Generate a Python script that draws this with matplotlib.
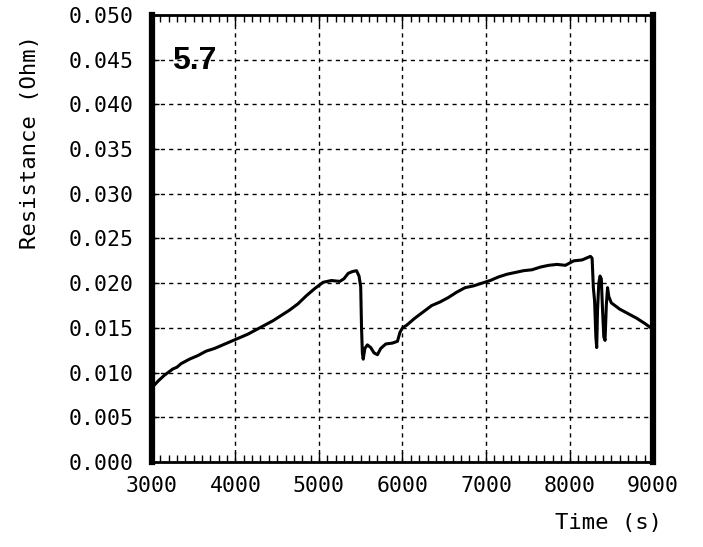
import matplotlib
matplotlib.use("Agg")
import matplotlib.pyplot as plt
from matplotlib.ticker import MultipleLocator, FormatStrFormatter

time_s = [3000, 3080, 3150, 3250, 3300, 3350, 3450, 3550, 3650, 3750, 3850, 3950,
          4050, 4150, 4250, 4350, 4450, 4550, 4650, 4750, 4850, 4950, 5050, 5150,
          5250, 5300, 5350, 5400, 5450, 5480, 5500, 5510, 5520, 5530, 5550, 5580,
          5620, 5660, 5700, 5740, 5800, 5880, 5940, 5970, 6000, 6050, 6150, 6250,
          6350, 6450, 6550, 6650, 6750, 6850, 6950, 7050, 7150, 7250, 7350, 7450,
          7550, 7650, 7750, 7850, 7950, 8050, 8150, 8250, 8270, 8285, 8300, 8315,
          8325, 8335, 8350, 8365, 8380, 8395, 8410, 8425, 8440, 8455, 8470, 8500,
          8600, 8700, 8800, 8900, 8960, 9000]
resistance = [0.0083, 0.0091, 0.0097, 0.0104, 0.0106, 0.0110, 0.0115, 0.0119, 0.0124,
              0.0127, 0.0131, 0.0135, 0.0139, 0.0143, 0.0148, 0.0153, 0.0158, 0.0164,
              0.0170, 0.0177, 0.0186, 0.0194, 0.0201, 0.0203, 0.0202, 0.0205, 0.0211,
              0.0213, 0.0214, 0.0208, 0.0196, 0.0150, 0.0122, 0.0115, 0.0127, 0.0131,
              0.0128, 0.0122, 0.0120, 0.0127, 0.0132, 0.0133, 0.0135, 0.0145, 0.0150,
              0.0153, 0.0161, 0.0168, 0.0175, 0.0179, 0.0184, 0.0190, 0.0195, 0.0197,
              0.0200, 0.0203, 0.0207, 0.0210, 0.0212, 0.0214, 0.0215, 0.0218, 0.0220,
              0.0221, 0.0220, 0.0225, 0.0226, 0.0230, 0.0228, 0.0195, 0.0180, 0.0140,
              0.0128, 0.0170, 0.0200, 0.0208, 0.0205, 0.0170, 0.0140, 0.0136, 0.0175,
              0.0195, 0.0185, 0.0178, 0.0171, 0.0166, 0.0161, 0.0155, 0.0151, 0.0148]

x_ticks = [3000, 4000, 5000, 6000, 7000, 8000, 9000]
y_ticks = [0.000, 0.005, 0.010, 0.015, 0.020, 0.025, 0.030, 0.035, 0.040, 0.045, 0.050]
panel_label = "5.7"

mono = "DejaVu Sans Mono"
fig = plt.figure(figsize=(7.03, 5.47), dpi=100)
ax = fig.add_axes([0.216, 0.1554, 0.713, 0.8172])

ax.plot(time_s, resistance, color="black", linewidth=2.2)

ax.set_xlim(3000, 9000)
ax.set_ylim(0, 0.050)
ax.set_xticks(x_ticks)
ax.set_yticks(y_ticks)
ax.yaxis.set_major_formatter(FormatStrFormatter("%.3f"))
ax.xaxis.set_minor_locator(MultipleLocator(100))

ax.grid(True, which="major", color="black", linestyle=(0, (3, 3)), linewidth=1.0)

for s in ["left", "right"]:
    ax.spines[s].set_linewidth(4.5)
for s in ["top", "bottom"]:
    ax.spines[s].set_linewidth(2)

ax.tick_params(axis="x", which="both", direction="in", top=True, bottom=True,
               labelsize=15.5, pad=10)
ax.tick_params(axis="x", which="major", length=7, width=1)
ax.tick_params(axis="x", which="minor", length=5, width=1)
ax.tick_params(axis="y", which="major", direction="in", length=5, width=1,
               labelsize=15.5, pad=13, right=False)
for lab in ax.get_xticklabels() + ax.get_yticklabels():
    lab.set_family(mono)

ax.text(0.041, 0.93, panel_label, transform=ax.transAxes, fontsize=23,
        family="Liberation Sans", fontweight="bold", ha="left", va="top")

fig.text(0.942, 0.025, "Time (s)", ha="right", va="bottom", fontsize=16, family=mono)
fig.text(0.043, 0.74, "Resistance (Ohm)", rotation=90, ha="center", va="center",
         fontsize=16, family=mono)

fig.savefig("out.png", dpi=100)
